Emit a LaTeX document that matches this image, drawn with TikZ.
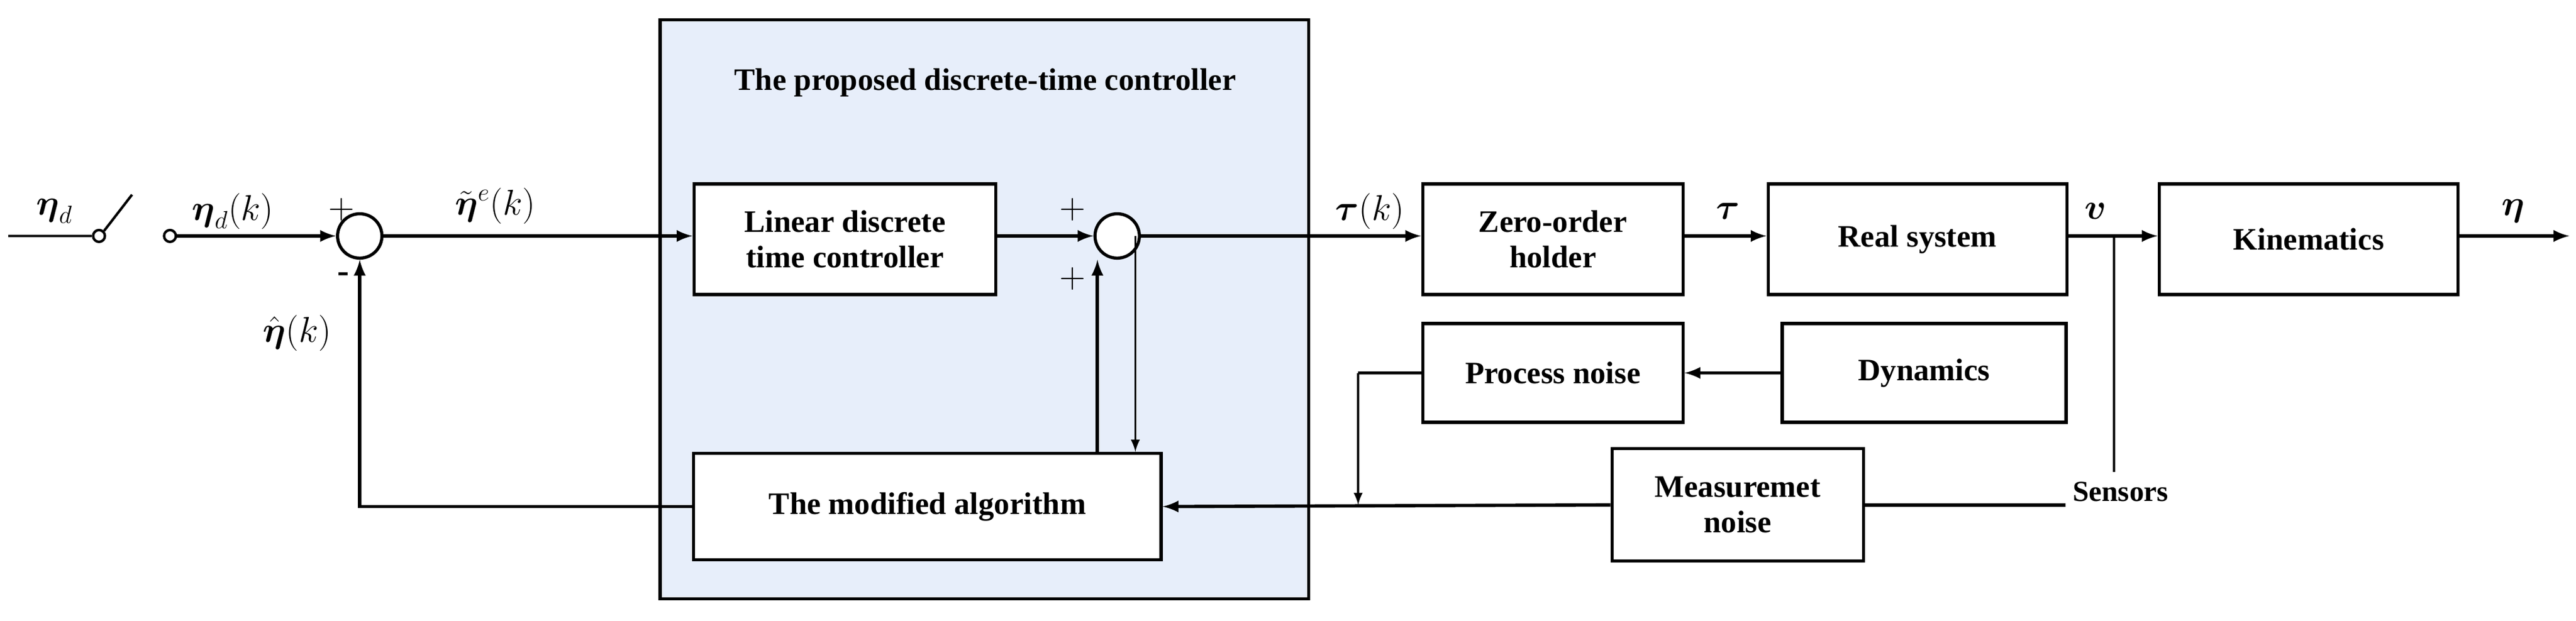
\documentclass[tikz,border=0pt]{standalone}
\usepackage{fontspec}
\setmainfont{Liberation Serif}
\usepackage{amsmath}
\usetikzlibrary{positioning}
\definecolor{ctrlbg}{RGB}{231,238,250}
\tikzset{
  blk/.style={
    draw, rectangle, line width=1.5pt, font=\fontsize{15}{17}\selectfont\bfseries,
    align=center, inner sep=0mm, fill=white
  },
  sumn/.style={
    draw, circle, minimum size=7.5mm, line width=1.5pt, inner sep=0mm, fill=white
  },
  pin/.style={
    draw, circle, minimum size=2mm, line width=1.2pt, inner sep=0mm, fill=white
  },
  lbl/.style={font=\fontsize{17}{19}\selectfont},
  sig/.style={-latex, line width=1.6pt},
  fb/.style={-latex, line width=1pt}
}
\begin{document}
\begin{tikzpicture}[x=0.0279cm,y=-0.0279cm]
 \useasboundingbox (0,0) rectangle (1561,376);
 \fill[ctrlbg,draw=black,line width=1.5pt] (400,12) rectangle (793,363);
 \node[font=\fontsize{15}{17}\selectfont\bfseries] (title) at (597,50) {The proposed discrete-time controller};

 \node[pin] (sw1) at (60,143) {};
 \node[pin] (sw2) at (103,143) {};
 \coordinate (in) at (5,143);
 \coordinate (swt) at (80,118);
 \node[sumn] (s1) at (218,143) {};
 \node[blk, minimum width=51mm, minimum height=18.7mm] (lin) at (512,145) {Linear discrete\\time controller};
 \node[sumn] (s2) at (677,143) {};
 \node[blk, minimum width=44mm, minimum height=18.7mm] (zoh) at (941,145) {Zero-order\\holder};
 \node[blk, minimum width=50.5mm, minimum height=18.7mm] (real) at (1162,145) {Real system};
 \node[blk, minimum width=50.5mm, minimum height=18.7mm] (kin) at (1399,145) {Kinematics};
 \coordinate (out) at (1557,143);
 \node[blk, minimum width=44mm, minimum height=16.7mm] (pn) at (941,226) {Process noise};
 \node[blk, minimum width=48mm, minimum height=16.7mm] (dyn) at (1166,226) {Dynamics};
 \node[blk, minimum width=42.5mm, minimum height=19mm] (mn) at (1053,306) {Measuremet\\noise};
 \node[blk, minimum width=79mm, minimum height=18mm] (alg) at (562,307) {The modified algorithm};
 \node[font=\fontsize{14}{16}\selectfont\bfseries] (sens) at (1285,298) {Sensors};

 \coordinate (br) at (1281,143);
 \coordinate (tap) at (688,143);
 \coordinate (pnc) at (823,226);

 \draw[line width=1.2pt] (in) -- (sw1);
 \draw[line width=1.2pt] (sw1.north east) -- (swt);
 \draw[sig] (sw2) -- (s1);
 \draw[sig] (s1) -- (s1 -| lin.west);
 \draw[sig] (s2 -| lin.east) -- (s2);
 \draw[sig] (s2) -- (s2 -| zoh.west);
 \draw[sig] (s2 -| zoh.east) -- (s2 -| real.west);
 \draw[sig] (s2 -| real.east) -- (s2 -| kin.west);
 \draw[sig] (s2 -| kin.east) -- (out);
 \draw[sig] (dyn) -- (pn);
 \draw[line width=1pt] (br) -- (1281,286);
 \draw[fb] (tap) -- (tap |- alg.north);
 \draw[sig] (alg.north -| 665,0) -- (s2.south -| 665,0);
 \draw[sig] (alg.west) -| (s1.south);
 \draw[line width=1.6pt] (sens.west |- mn) -- (mn.east);
 \draw[sig] (mn.west) -- (alg.east);
 \draw[line width=1.6pt] (pn.west) -- (pnc);
 \draw[fb] (pnc) -- (pnc |- mn);

 \node[lbl] at (207,127) {$+$};
 \node[lbl] at (208,168) {\textbf{-}};
 \node[lbl] at (650,127) {$+$};
 \node[lbl] at (650,169) {$+$};
 \node[lbl] at (33,128) {$\boldsymbol{\eta}_d$};
 \node[lbl] at (141,128) {$\boldsymbol{\eta}_d(k)$};
 \node[lbl] at (300,125) {$\tilde{\boldsymbol{\eta}}^e(k)$};
 \node[lbl] at (180,202) {$\hat{\boldsymbol{\eta}}(k)$};
 \node[lbl] at (830,128) {$\boldsymbol{\tau}(k)$};
 \node[lbl] at (1047,128) {$\boldsymbol{\tau}$};
 \node[lbl] at (1270,128) {$\boldsymbol{v}$};
 \node[lbl] at (1523,128) {$\boldsymbol{\eta}$};
\end{tikzpicture}
\end{document}
